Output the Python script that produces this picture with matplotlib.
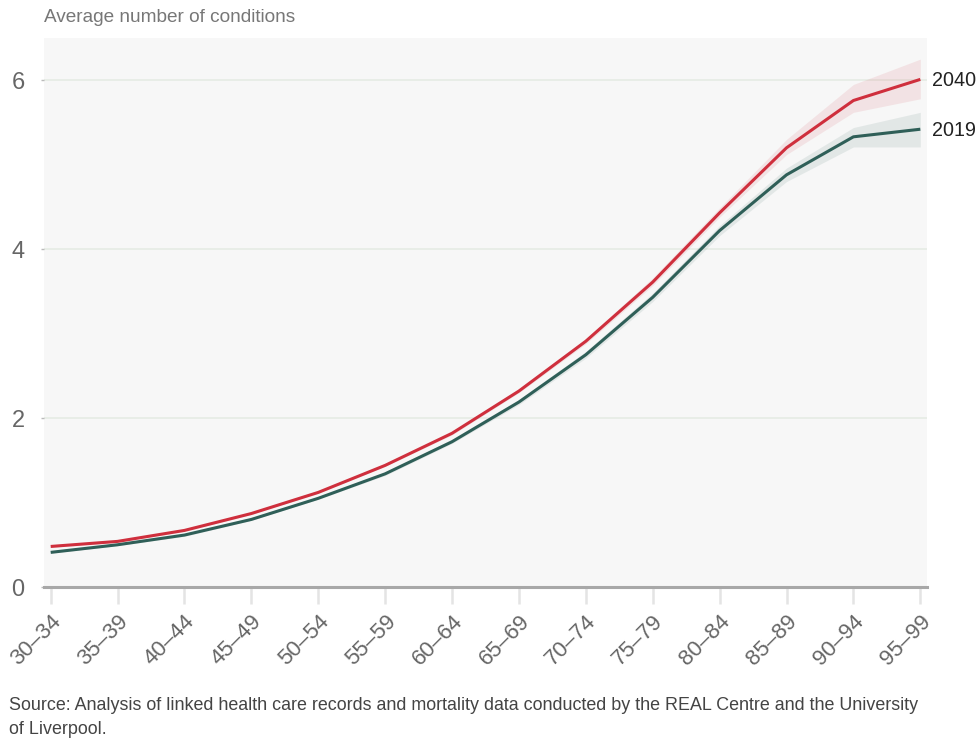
import matplotlib
matplotlib.use("Agg")
import matplotlib.pyplot as plt
import numpy as np

plt.rcParams['font.family'] = ['Liberation Sans', 'DejaVu Sans']

age_groups = ["30–34", "35–39", "40–44", "45–49", "50–54", "55–59", "60–64",
              "65–69", "70–74", "75–79", "80–84", "85–89", "90–94", "95–99"]

conditions_2040 = [0.48, 0.54, 0.67, 0.87, 1.12, 1.44, 1.82, 2.32, 2.91, 3.61, 4.43, 5.20, 5.76, 6.01]
lower_2040 = [0.47, 0.53, 0.66, 0.86, 1.11, 1.43, 1.80, 2.30, 2.88, 3.57, 4.38, 5.12, 5.62, 5.78]
upper_2040 = [0.50, 0.55, 0.68, 0.89, 1.14, 1.46, 1.84, 2.35, 2.94, 3.66, 4.49, 5.30, 5.95, 6.25]

conditions_2019 = [0.41, 0.50, 0.615, 0.80, 1.05, 1.34, 1.72, 2.19, 2.75, 3.43, 4.22, 4.88, 5.33, 5.42]
lower_2019 = [0.40, 0.49, 0.60, 0.79, 1.04, 1.32, 1.70, 2.16, 2.71, 3.38, 4.16, 4.80, 5.21, 5.21]
upper_2019 = [0.42, 0.51, 0.63, 0.82, 1.07, 1.36, 1.75, 2.22, 2.79, 3.48, 4.28, 4.96, 5.44, 5.62]

y_ticks = [0, 2, 4, 6]

RED = "#cf2f3d"
GREEN = "#2f5f58"

fig = plt.figure(figsize=(9.78, 7.38), dpi=100)
ax = fig.add_axes([44 / 978, 1 - 587 / 738, (927 - 44) / 978, (587 - 38) / 738])
ax.set_facecolor("#f7f7f7")

x = np.arange(len(age_groups))

ax.fill_between(x, lower_2040, upper_2040, color=RED, alpha=0.10, linewidth=0, zorder=2)
ax.fill_between(x, lower_2019, upper_2019, color=GREEN, alpha=0.10, linewidth=0, zorder=2)
ax.plot(x, conditions_2019, color=GREEN, linewidth=2.2, zorder=3, solid_capstyle="butt")
ax.plot(x, conditions_2040, color=RED, linewidth=2.2, zorder=4, solid_capstyle="butt")

ax.set_xlim(-0.1, len(age_groups) - 1 + 0.1)
ax.set_ylim(0, 6.5)

for yv in y_ticks[1:]:
    ax.axhline(yv, color="#e6ebe4", linewidth=1.2, zorder=1)
ax.axhline(0, color="#a8a8a8", linewidth=2.2, zorder=5, clip_on=False)

for s in ax.spines.values():
    s.set_visible(False)

ax.set_yticks(y_ticks)
ax.set_yticklabels([str(v) for v in y_ticks], fontsize=17, color="#666666")
ax.tick_params(axis="y", length=2, width=1, color="#bbbbbb", pad=12)

ax.set_xticks(x)
ax.set_xticklabels(age_groups, rotation=45, ha="right", rotation_mode="anchor",
                   fontsize=16, color="#666666")
ax.tick_params(axis="x", length=12, width=1.8, color="#e4e4e4", pad=5)

label_x = len(age_groups) - 1 + 0.17
ax.text(label_x, conditions_2040[-1] - 0.01, "2040", fontsize=14.2,
        color="#222222", va="center", ha="left", clip_on=False)
ax.text(label_x, conditions_2019[-1] - 0.01, "2019", fontsize=14.2,
        color="#222222", va="center", ha="left", clip_on=False)

fig.text(44 / 978, 1 - 18 / 738, "Average number of conditions", fontsize=13.7,
         color="#777777", va="center", ha="left")

fig.text(9 / 978, 1 - 706 / 738,
         "Source: Analysis of linked health care records and mortality data conducted by the REAL Centre and the University",
         fontsize=12.9, color="#444444", va="center", ha="left")
fig.text(9 / 978, 1 - 730 / 738, "of Liverpool.", fontsize=12.9, color="#444444",
         va="center", ha="left")

fig.savefig("out.png", dpi=100, facecolor="white")
